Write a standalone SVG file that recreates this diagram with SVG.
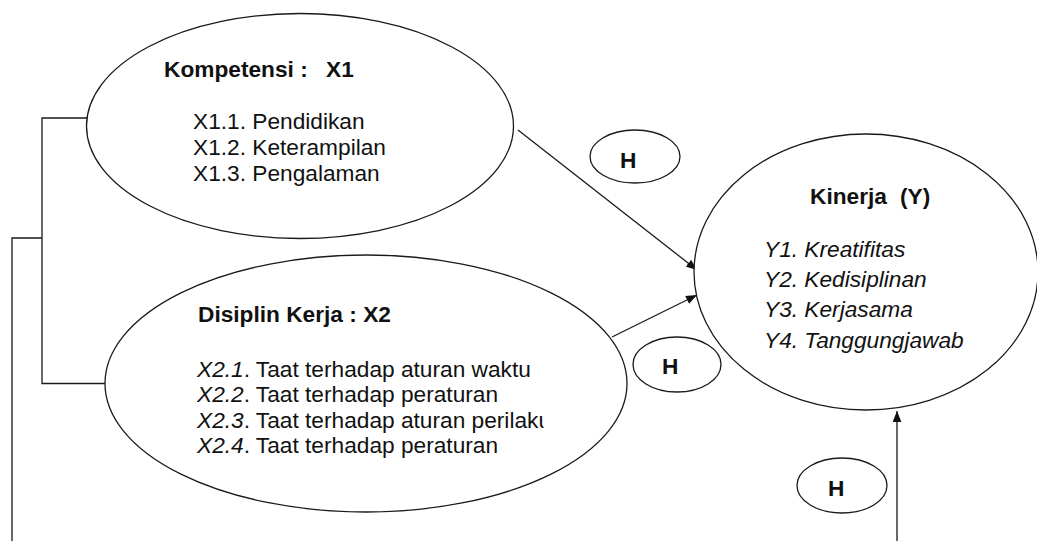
<svg xmlns="http://www.w3.org/2000/svg" width="1037" height="541" viewBox="0 0 1037 541">
  <style>
    .node { fill: #ffffff; stroke: #1a1a1a; stroke-width: 1.3; }
    .conn { fill: none; stroke: #1a1a1a; stroke-width: 1.3; }
    text { font-family: "Liberation Sans", Arial, sans-serif; font-size: 22.7px; fill: #111111; }
    .b { font-weight: bold; }
    .i { font-style: italic; }
  </style>
  <defs>
    <marker id="arrow" viewBox="0 0 10 8" refX="10" refY="4" markerWidth="11" markerHeight="9" markerUnits="userSpaceOnUse" orient="auto">
      <path d="M0,0 L10,4 L0,8 z" fill="#111111"/>
    </marker>
    <clipPath id="clipX23">
      <rect x="180" y="400" width="363.5" height="40"/>
    </clipPath>
  </defs>
  <rect width="1037" height="541" fill="#ffffff"/>

  <g id="connectors">
    <path class="conn" d="M87,118 H42 V383.5 H105.5"/>
    <path class="conn" d="M42,238 H12 V541"/>
    <line class="conn" x1="518" y1="130" x2="697" y2="270" marker-end="url(#arrow)"/>
    <line class="conn" x1="612" y1="337" x2="697" y2="295" marker-end="url(#arrow)"/>
    <line class="conn" x1="897" y1="541" x2="897" y2="411" marker-end="url(#arrow)"/>
  </g>

  <g id="kompetensi">
    <ellipse class="node" cx="300" cy="126" rx="213.5" ry="112.5"/>
    <text class="b" x="164" y="77">Kompetensi :<tspan x="326">X1</tspan></text>
    <text x="193" y="129">X1.1. Pendidikan</text>
    <text x="193" y="155">X1.2. Keterampilan</text>
    <text x="193" y="181">X1.3. Pengalaman</text>
  </g>

  <g id="disiplin">
    <ellipse class="node" cx="366" cy="383.5" rx="261" ry="128.5"/>
    <text class="b" x="198" y="322">Disiplin Kerja : X2</text>
    <text x="197" y="377"><tspan class="i">X2.1</tspan>. Taat terhadap aturan waktu</text>
    <text x="197" y="402"><tspan class="i">X2.2</tspan>. Taat terhadap peraturan</text>
    <text x="197" y="428" clip-path="url(#clipX23)"><tspan class="i">X2.3</tspan>. Taat terhadap aturan perilaku</text>
    <text x="197" y="453"><tspan class="i">X2.4</tspan>. Taat terhadap peraturan</text>
  </g>

  <g id="kinerja">
    <ellipse class="node" cx="866" cy="272" rx="172" ry="138"/>
    <text class="b" x="810" y="204">Kinerja<tspan x="900">(Y)</tspan></text>
    <text class="i" x="764" y="257">Y1. Kreatifitas</text>
    <text class="i" x="764" y="287">Y2. Kedisiplinan</text>
    <text class="i" x="764" y="317">Y3. Kerjasama</text>
    <text class="i" x="764" y="348">Y4. Tanggungjawab</text>
  </g>

  <g id="h1">
    <ellipse class="node" cx="635" cy="156.5" rx="45" ry="26.5"/>
    <text class="b" x="620" y="168">H</text>
  </g>

  <g id="h2">
    <ellipse class="node" cx="677" cy="364.5" rx="44" ry="27.5"/>
    <text class="b" x="662" y="374">H</text>
  </g>

  <g id="h3">
    <ellipse class="node" cx="842" cy="485.5" rx="45" ry="27.5"/>
    <text class="b" x="828" y="496">H</text>
  </g>
</svg>
